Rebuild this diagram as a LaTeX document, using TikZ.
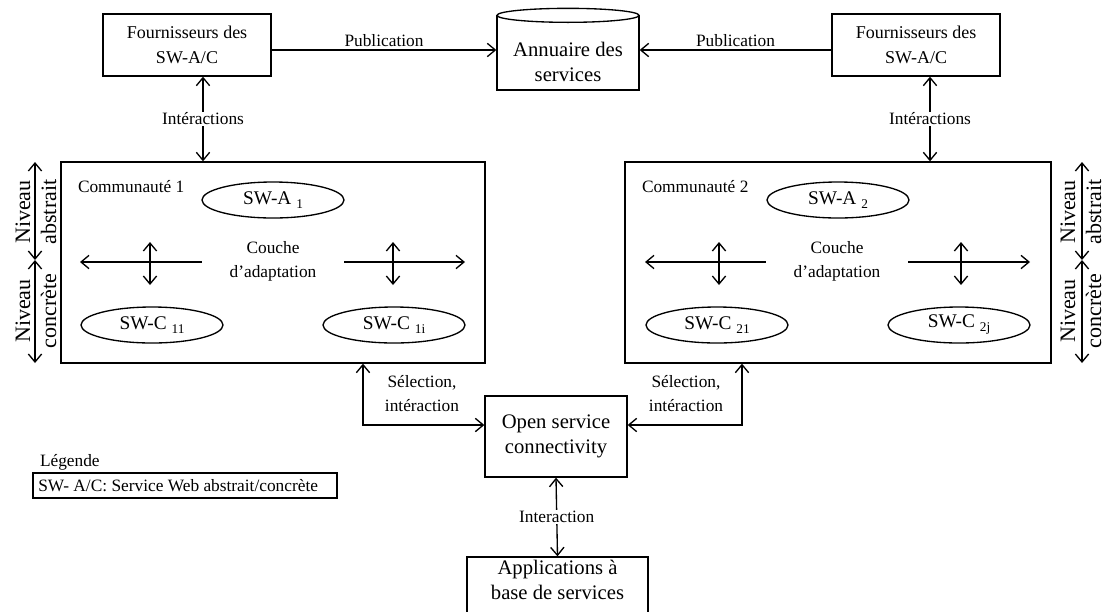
\documentclass[tikz,border=0pt]{standalone}
\usepackage{fontspec}
\setmainfont{Liberation Serif}
\usetikzlibrary{arrows.meta,shapes.geometric}
\newcommand{\lowidx}[1]{\raisebox{-0.45ex}{\fontsize{10}{10}\selectfont #1}}
\begin{document}
\begin{tikzpicture}[x=0.75pt,y=-0.75pt,line width=1pt,
  bigtext/.style={font=\fontsize{13.5}{18.5}\selectfont, align=center, inner sep=0pt},
  largetext/.style={font=\fontsize{15.5}{18.5}\selectfont, align=center, inner sep=0pt},
  sidetext/.style={font=\fontsize{16.5}{19.5}\selectfont, align=center, inner sep=0pt, rotate=90},
  smalltext/.style={font=\fontsize{13}{18}\selectfont, align=center, inner sep=1pt},
  box/.style={draw, bigtext},
  ell/.style={draw, ellipse, align=center, inner sep=0pt, font=\fontsize{14.5}{18}\selectfont, minimum width=142*0.75pt, minimum height=36*0.75pt},
  barb/.tip={Straight Barb[length=6pt,width=10pt]},
  tip/.style={-barb},
  dtip/.style={barb-barb}]
\useasboundingbox (0,0) rectangle (1106,611);
\clip (0,0) rectangle (1106,611);

% providers and service directory
\node[box, minimum width=168*0.75pt, minimum height=62*0.75pt] (fl) at (187,45) {Fournisseurs des\\SW-A/C};
\node[box, minimum width=168*0.75pt, minimum height=62*0.75pt] (fr) at (916,45) {Fournisseurs des\\SW-A/C};
\node[draw, minimum width=142*0.75pt, minimum height=74*0.75pt, inner sep=0pt] (ann) at (568,53) {};
\draw[fill=white] (ann.north) ellipse [x radius=53.25pt, y radius=5.25pt];
\node[largetext] (anntxt) at (568,62) {Annuaire des\\services};

\coordinate (pub) at (0,50);
\draw[tip] (fl.east |- pub) -- node[smalltext, above=1pt] (publ) {Publication} (ann.west |- pub);
\draw[tip] (fr.west |- pub) -- node[smalltext, above=1pt] (pubr) {Publication} (ann.east |- pub);

% communities
\node[draw, minimum width=424*0.75pt, minimum height=201*0.75pt, inner sep=0pt] (c1) at (273,262.5) {};
\node[draw, minimum width=426*0.75pt, minimum height=201*0.75pt, inner sep=0pt] (c2) at (838,262.5) {};

\coordinate (iaL) at (203,0);
\coordinate (iaR) at (930,0);
\draw[dtip] (fl.south -| iaL) -- node[smalltext, fill=white] (ial) {Intéractions} (c1.north -| iaL);
\draw[dtip] (fr.south -| iaR) -- node[smalltext, fill=white] (iar) {Intéractions} (c2.north -| iaR);

% community 1
\node[smalltext, anchor=west] (c1name) at (76,187) {Communauté 1};
\node[ell] (a1) at (273,200) {SW-A \lowidx{1}};
\node[smalltext, minimum width=141*0.75pt] (k1) at (273,261) {Couche\\d’adaptation};
\coordinate (k1l) at (80,262);
\coordinate (k1r) at (465,262);
\draw[tip] (k1.west |- k1l) -- (k1l);
\draw[tip] (k1.east |- k1r) -- (k1r);
\coordinate (v1at) at (150,242);
\coordinate (v1ab) at (150,285);
\coordinate (v1bt) at (393,242);
\coordinate (v1bb) at (393,285);
\draw[dtip] (v1at) -- (v1ab);
\draw[dtip] (v1bt) -- (v1bb);
\node[ell] (c11) at (152,325) {SW-C \lowidx{11}};
\node[ell] (c1i) at (394,325) {SW-C \lowidx{1i}};

% community 2
\node[smalltext, anchor=west] (c2name) at (640,187) {Communauté 2};
\node[ell] (a2) at (838,200) {SW-A \lowidx{2}};
\node[smalltext, minimum width=141*0.75pt] (k2) at (837,261) {Couche\\d’adaptation};
\coordinate (k2l) at (645,262);
\coordinate (k2r) at (1030,262);
\draw[tip] (k2.west |- k2l) -- (k2l);
\draw[tip] (k2.east |- k2r) -- (k2r);
\coordinate (v2at) at (719,242);
\coordinate (v2ab) at (719,285);
\coordinate (v2bt) at (961,242);
\coordinate (v2bb) at (961,285);
\draw[dtip] (v2at) -- (v2ab);
\draw[dtip] (v2bt) -- (v2bb);
\node[ell] (c21) at (717,325) {SW-C \lowidx{21}};
\node[ell] (c2j) at (959,325) {SW-C \lowidx{2j}};

% abstraction levels
\coordinate (lt) at (35,162);
\coordinate (lm) at (35,260);
\coordinate (lb) at (35,363);
\draw[dtip] (lt) -- (lm);
\draw[dtip] (lm) -- (lb);
\node[sidetext] (nal) at (36,212) {Niveau\\abstrait};
\node[sidetext] (ncl) at (36,311) {Niveau\\concrète};
\coordinate (rt) at (1082,162);
\coordinate (rm) at (1082,260);
\coordinate (rb) at (1082,363);
\draw[dtip] (rt) -- (rm);
\draw[dtip] (rm) -- (rb);
\node[sidetext] (nar) at (1081,212) {Niveau\\abstrait};
\node[sidetext] (ncr) at (1081,311) {Niveau\\concrète};

% open service connectivity
\node[draw, largetext, minimum width=142*0.75pt, minimum height=81*0.75pt] (osc) at (556,436.5) {Open service\\connectivity};
\coordinate (s1) at (363,425);
\coordinate (s2) at (742,425);
\draw[dtip] (c1.south -| s1) -- (s1) -- (osc.west |- s1);
\draw[dtip] (c2.south -| s2) -- (s2) -- (osc.east |- s2);
\node[smalltext] (sl) at (422,394) {Sélection,\\intéraction};
\node[smalltext] (sr) at (686,394) {Sélection,\\intéraction};

% applications
\node[draw, minimum width=181*0.75pt, minimum height=70*0.75pt, inner sep=0pt] (app) at (557.5,592) {};
\node[largetext] (apptxt) at (557.5,580) {Applications à\\base de services};
\draw[dtip] (osc.south) -- node[smalltext, fill=white] (inter) {Interaction} (app.north);

% legend
\node[smalltext, anchor=west] (leg) at (38,462) {Légende};
\node[draw, minimum width=304*0.75pt, minimum height=25*0.75pt, inner sep=0pt] (legbox) at (185,485.5) {};
\node[smalltext, anchor=west, inner sep=4pt] (legtxt) at (legbox.west) {SW- A/C: Service Web abstrait/concrète};
\end{tikzpicture}
\end{document}
